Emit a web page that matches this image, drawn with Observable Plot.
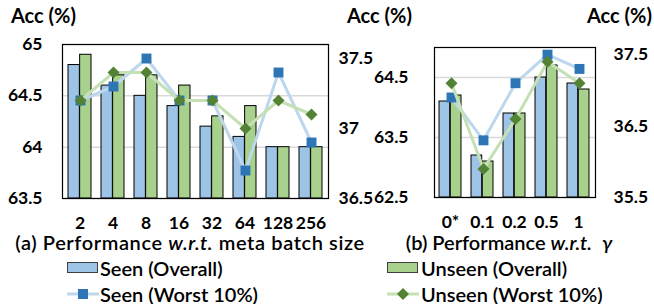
<!DOCTYPE html>
<html><head><meta charset="utf-8">
<script src="https://cdn.jsdelivr.net/npm/d3@7"></script>
<script src="https://cdn.jsdelivr.net/npm/@observablehq/plot@0.6"></script>
<style>
body{margin:0;background:#fff;}
#chart{position:relative;width:654px;height:304px;font-family:Lato,"Open Sans",sans-serif;color:#000;overflow:hidden;}
#chart > svg{position:absolute;left:0;top:0;}
.abs{position:absolute;white-space:nowrap;line-height:16px;font-size:20px;font-weight:600;}
.b{font-weight:bold;}
.cap{transform:translateX(-50%);}
.wide{letter-spacing:0.6px;}
.sw{position:absolute;width:29px;height:9px;border:1.5px solid #404040;}
</style></head>
<body><div id="chart"></div>
<script>
// ---- data ----
const batchSizes = ["2","4","8","16","32","64","128","256"];
const batchSeenOverall   = [64.8,64.6,64.5,64.4,64.2,64.1,64.0,64.0];
const batchUnseenOverall = [64.9,64.7,64.7,64.6,64.3,64.4,64.0,64.0];
const batchSeenWorst     = [37.2,37.3,37.5,37.2,37.2,36.7,37.4,36.9];
const batchUnseenWorst   = [37.2,37.4,37.4,37.2,37.2,37.0,37.2,37.1];
const batchLeftTicks  = [63.5,64,64.5,65];
const batchRightTicks = [36.5,37,37.5];

const gammas = ["0*","0.1","0.2","0.5","1"];
const gammaSeenOverall   = [64.1,63.2,63.9,64.5,64.4];
const gammaUnseenOverall = [64.2,63.1,63.9,64.7,64.3];
const gammaSeenWorst     = [36.9,36.3,37.1,37.5,37.3];
const gammaUnseenWorst   = [37.1,35.9,36.6,37.4,37.1];
const gammaLeftTicks  = [62.5,63.5,64.5];
const gammaRightTicks = [35.5,36.5,37.5];

const seriesNames = ["Seen (Overall)","Unseen (Overall)","Seen (Worst 10%)","Unseen (Worst 10%)"];

// ---- styling ----
const C = {seenBar:"#9DC3E6", unseenBar:"#A9D18E", seenLine:"#BDD7EE", unseenLine:"#C5E0B4", seenDot:"#2E75B6", unseenDot:"#548235", grid:"#D9D9D9"};
const W = 654, H = 235;
const style = {background:"transparent", fontFamily:"Lato, 'Open Sans', sans-serif", fontSize:"17.5px", fontWeight:"bold", overflow:"visible"};
const fmt = d => String(d);
const chart = document.getElementById("chart");

function panel(o){
  const rows = o.cats.map((c,i)=>({c, so:o.so[i], uo:o.uo[i], sw:o.sw[i], uw:o.uw[i]}));
  const f = o.frame;
  const margins = {width:W, height:H, marginLeft:f.left, marginRight:W-f.right, marginTop:f.top, marginBottom:H-f.bottom, style};
  const bw = (f.right-f.left)/o.cats.length*0.7;
  const bars = Plot.plot({...margins,
    x:{type:"band", domain:o.cats, paddingInner:0.3, paddingOuter:0.15},
    y:{domain:o.leftDomain},
    marks:[
      Plot.ruleY(o.leftTicks, {stroke:C.grid, strokeWidth:1.5}),
      Plot.barY(rows, {x:"c", y1:o.leftDomain[0], y2:"so", fill:C.seenBar, stroke:"#000", strokeWidth:1, insetRight:bw/2}),
      Plot.barY(rows, {x:"c", y1:o.leftDomain[0], y2:"uo", fill:C.unseenBar, stroke:"#000", strokeWidth:1, insetLeft:bw/2}),
      Plot.axisY(o.leftTicks, {anchor:"left", tickSize:0, tickPadding:o.leftPad, label:null, tickFormat:fmt}),
      Plot.axisX({anchor:"bottom", tickSize:0, tickPadding:18, label:null})
    ]});
  const lines = Plot.plot({...margins,
    x:{type:"point", domain:o.cats, padding:0.5, axis:null},
    y:{domain:o.rightDomain},
    marks:[
      Plot.line(rows, {x:"c", y:"sw", stroke:C.seenLine, strokeWidth:3}),
      Plot.dot(rows, {x:"c", y:"sw", symbol:"square", r:5.6, fill:C.seenDot}),
      Plot.line(rows, {x:"c", y:"uw", stroke:C.unseenLine, strokeWidth:3}),
      Plot.dot(rows, {x:"c", y:"uw", symbol:"diamond2", r:5.4, fill:C.unseenDot}),
      Plot.axisY(o.rightTicks, {anchor:"right", tickSize:0, tickPadding:o.rightPad, label:null, tickFormat:fmt}),
      Plot.frame({stroke:"#000", strokeWidth:1.2})
    ]});
  chart.appendChild(bars);
  chart.appendChild(lines);
}

panel({cats:batchSizes, so:batchSeenOverall, uo:batchUnseenOverall, sw:batchSeenWorst, uw:batchUnseenWorst,
  frame:{left:62, right:328, top:44, bottom:198}, leftDomain:[63.5,65], rightDomain:[36.5,37.6],
  leftTicks:batchLeftTicks, rightTicks:batchRightTicks, leftPad:20, rightPad:10});
panel({cats:gammas, so:gammaSeenOverall, uo:gammaUnseenOverall, sw:gammaSeenWorst, uw:gammaUnseenWorst,
  frame:{left:434, right:595, top:47, bottom:197}, leftDomain:[62.5,65], rightDomain:[35.5,37.6],
  leftTicks:gammaLeftTicks, rightTicks:gammaRightTicks, leftPad:26, rightPad:18});

// ---- axis titles, captions, legend ----
function add(html, cls, left, top){
  const d = document.createElement("div");
  d.className = "abs " + cls; d.innerHTML = html;
  d.style.left = left + "px"; d.style.top = top + "px";
  chart.appendChild(d); return d;
}
add("Acc (%)", "b", 11, 7);
add("Acc (%)", "b", 347, 7);
add("Acc (%)", "b", 587, 7);
add("(a) Performance <i>w.r.t.</i> meta batch size", "cap wide", 190, 234);
add("(b) Performance <i>w.r.t.</i>&nbsp; <i>γ</i>", "cap", 509, 234);

function swatch(left, top, fill){
  const d = document.createElement("div");
  d.className = "sw"; d.style.left = left+"px"; d.style.top = top+"px"; d.style.background = fill;
  chart.appendChild(d);
}
function lineKey(left, cy, stroke, fill, diamond){
  const ns = "http://www.w3.org/2000/svg";
  const s = document.createElementNS(ns, "svg");
  s.setAttribute("width", 32); s.setAttribute("height", 14);
  s.style.left = left+"px"; s.style.top = (cy-7)+"px";
  s.innerHTML = `<line x1="0" x2="32" y1="7" y2="7" stroke="${stroke}" stroke-width="3"/>` +
    (diamond ? `<path d="M16 1 L22 7 L16 13 L10 7Z" fill="${fill}"/>` : `<rect x="11" y="2" width="10" height="10" fill="${fill}"/>`);
  chart.appendChild(s);
}
swatch(67, 262, C.seenBar);   add(seriesNames[0], "", 100, 260);
swatch(387, 262, C.unseenBar); add(seriesNames[1], "", 421, 260);
lineKey(67, 294, C.seenLine, C.seenDot, false);   add(seriesNames[2], "", 100, 286);
lineKey(387, 294, C.unseenLine, C.unseenDot, true); add(seriesNames[3], "", 421, 286);
</script></body></html>
